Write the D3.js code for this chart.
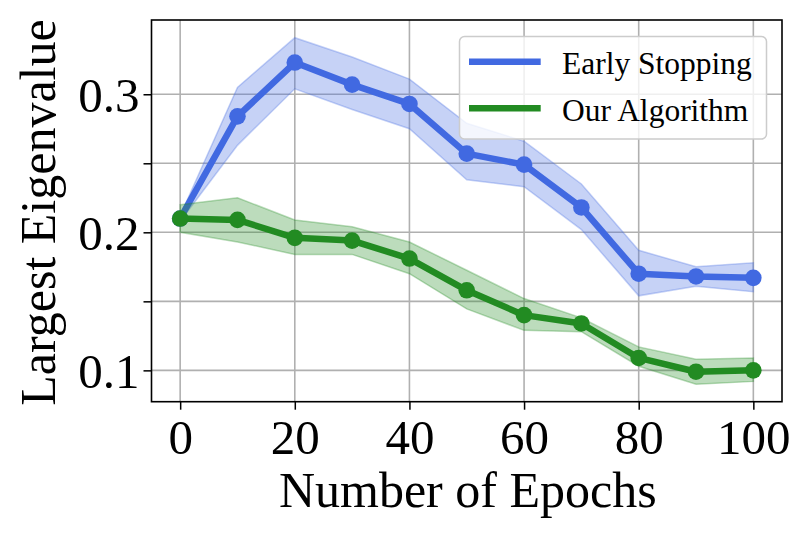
<!DOCTYPE html>
<html>
<head>
<meta charset="utf-8">
<script src="https://cdn.jsdelivr.net/npm/d3@7"></script>
<style>
  html, body { margin: 0; padding: 0; background: #ffffff; }
  svg { display: block; }
  text { font-family: "Liberation Serif", "DejaVu Serif", serif; fill: #000; }
</style>
</head>
<body>
<svg id="chart" width="810" height="540"></svg>
<script>
// ---- data ----
const epochs = [0, 10, 20, 30, 40, 50, 60, 70, 80, 90, 100];

const earlyMean  = [0.210, 0.284, 0.323, 0.307, 0.293, 0.257, 0.249, 0.218, 0.170, 0.168, 0.167];
const earlyUpper = [0.212, 0.305, 0.341, 0.327, 0.311, 0.279, 0.266, 0.235, 0.187, 0.175, 0.178];
const earlyLower = [0.208, 0.263, 0.304, 0.289, 0.275, 0.238, 0.233, 0.202, 0.154, 0.161, 0.157];

const oursMean  = [0.210, 0.209, 0.196, 0.194, 0.181, 0.158, 0.140, 0.134, 0.109, 0.099, 0.100];
const oursUpper = [0.220, 0.225, 0.209, 0.204, 0.193, 0.1725, 0.152, 0.138, 0.117, 0.108, 0.109];
const oursLower = [0.200, 0.193, 0.184, 0.184, 0.170, 0.1445, 0.129, 0.128, 0.103, 0.090, 0.092];

const seriesNames = ["Early Stopping", "Our Algorithm"];
const xTicks = [0, 20, 40, 60, 80, 100];
const xTickLabels = ["0", "20", "40", "60", "80", "100"];
const yTicks = [0.1, 0.15, 0.2, 0.25, 0.3];
const yTickLabels = ["0.1", "", "0.2", "", "0.3"];
const xTitle = "Number of Epochs";
const yTitle = "Largest Eigenvalue";

// ---- layout ----
const W = 810, H = 540;
const margin = { left: 151.5, top: 20, right: 28, bottom: 138.3 };
const plotL = margin.left, plotT = margin.top;
const plotR = W - margin.right, plotB = H - margin.bottom;

const colors = ["#4169E1", "#228B22"];

const svg = d3.select("#chart");

const x = d3.scaleLinear().domain([-5, 105]).range([plotL, plotR]);
const y = d3.scaleLinear().domain([0.0773, 0.3538]).range([plotB, plotT]);

// ---- grid ----
const grid = svg.append("g");
grid.selectAll("line.gx").data(xTicks).enter().append("line")
  .attr("x1", d => x(d)).attr("x2", d => x(d))
  .attr("y1", plotT).attr("y2", plotB)
  .attr("stroke", "#b0b0b0").attr("stroke-width", 1.6);
grid.selectAll("line.gy").data(yTicks).enter().append("line")
  .attr("x1", plotL).attr("x2", plotR)
  .attr("y1", d => y(d)).attr("y2", d => y(d))
  .attr("stroke", "#b0b0b0").attr("stroke-width", 1.6);

// ---- series ----
const series = [
  { name: seriesNames[0], mean: earlyMean, upper: earlyUpper, lower: earlyLower, color: colors[0] },
  { name: seriesNames[1], mean: oursMean,  upper: oursUpper,  lower: oursLower,  color: colors[1] }
];

const area = d3.area()
  .x((d, i) => x(epochs[i]))
  .y0(d => y(d[0]))
  .y1(d => y(d[1]));
const line = d3.line()
  .x((d, i) => x(epochs[i]))
  .y(d => y(d));

series.forEach(s => {
  const g = svg.append("g");
  const band = s.lower.map((lo, i) => [lo, s.upper[i]]);
  g.append("path")
    .attr("d", area(band))
    .attr("fill", s.color).attr("fill-opacity", 0.3)
    .attr("stroke", s.color).attr("stroke-opacity", 0.3).attr("stroke-width", 1.5);
  g.append("path")
    .attr("d", line(s.mean))
    .attr("fill", "none").attr("stroke", s.color)
    .attr("stroke-width", 6.5).attr("stroke-linejoin", "round");
  g.selectAll("circle").data(s.mean).enter().append("circle")
    .attr("cx", (d, i) => x(epochs[i]))
    .attr("cy", d => y(d))
    .attr("r", 8.3)
    .attr("fill", s.color);
});

// ---- axes ----
const xAxis = d3.axisBottom(x).tickValues(xTicks)
  .tickFormat((d, i) => xTickLabels[i]).tickSizeInner(8).tickSizeOuter(0);
const gx = svg.append("g").attr("transform", `translate(0,${plotB})`).call(xAxis);
gx.select(".domain").remove();
gx.selectAll(".tick line").attr("stroke", "#000").attr("stroke-width", 1.5);
gx.selectAll(".tick text")
  .attr("y", 52).attr("dy", null)
  .style("font-family", '"Liberation Serif", serif')
  .style("font-size", "49px");

const yAxis = d3.axisLeft(y).tickValues(yTicks)
  .tickFormat((d, i) => yTickLabels[i]).tickSizeInner(8).tickSizeOuter(0);
const gy = svg.append("g").attr("transform", `translate(${plotL},0)`).call(yAxis);
gy.select(".domain").remove();
gy.selectAll(".tick line").attr("stroke", "#000").attr("stroke-width", 1.5);
gy.selectAll(".tick text")
  .attr("x", -12).attr("dy", null).attr("y", 17)
  .style("font-family", '"Liberation Serif", serif')
  .style("font-size", "49px");

// ---- frame ----
svg.append("rect")
  .attr("x", plotL).attr("y", plotT)
  .attr("width", plotR - plotL).attr("height", plotB - plotT)
  .attr("fill", "none").attr("stroke", "#000").attr("stroke-width", 1.6);

// ---- titles ----
svg.append("text")
  .attr("x", (plotL + plotR) / 2 + 1).attr("y", 506.5)
  .attr("text-anchor", "middle")
  .style("font-size", "50px")
  .text(xTitle);

svg.append("text")
  .attr("transform", `translate(55,212.5) rotate(-90)`)
  .attr("text-anchor", "middle")
  .style("font-size", "50px")
  .text(yTitle);

// ---- legend ----
const lg = svg.append("g");
lg.append("rect")
  .attr("x", 459.5).attr("y", 36.5).attr("width", 307).attr("height", 102.5)
  .attr("rx", 5).attr("ry", 5)
  .attr("fill", "#ffffff").attr("fill-opacity", 0.8)
  .attr("stroke", "#cccccc").attr("stroke-width", 1.5);
series.forEach((s, i) => {
  const ly = 61.7 + i * 46.6;
  lg.append("line")
    .attr("x1", 469).attr("x2", 540.7)
    .attr("y1", ly).attr("y2", ly)
    .attr("stroke", s.color).attr("stroke-width", 6.5);
  lg.append("text")
    .attr("x", 562).attr("y", ly + 12.6)
    .style("font-size", "31.5px")
    .text(s.name);
});
</script>
</body>
</html>
